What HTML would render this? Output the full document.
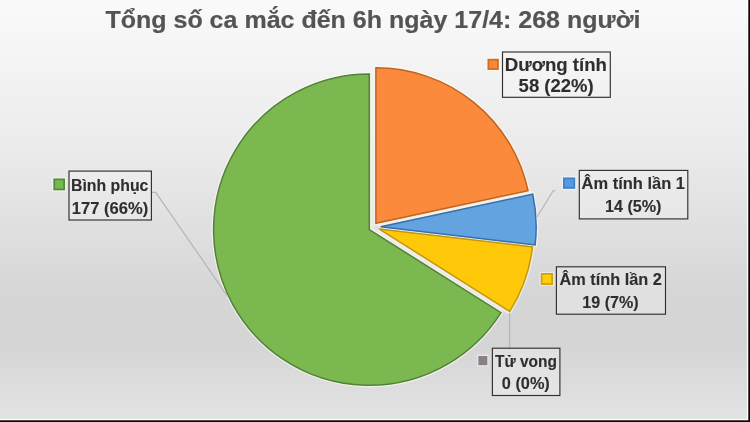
<!DOCTYPE html>
<html><head><meta charset="utf-8"><title>Chart</title>
<style>
html,body{margin:0;padding:0;background:#fff;}
body{width:750px;height:422px;overflow:hidden;font-family:"Liberation Sans",sans-serif;}
svg{display:block}
text{font-family:"Liberation Sans",sans-serif;font-weight:bold;fill:#2E2E2E;stroke:#2E2E2E;stroke-width:0.12px;}
#wrap{width:750px;height:422px;will-change:transform;}
</style></head><body>
<div id="wrap">
<svg width="750" height="422" viewBox="0 0 750 422">
<defs>
<linearGradient id="bg" x1="0" y1="0" x2="0" y2="1">
<stop offset="0" stop-color="#FAFAFA"/>
<stop offset="0.35" stop-color="#EBEBEB"/>
<stop offset="0.55" stop-color="#DFDFDF"/>
<stop offset="0.69" stop-color="#D6D6D6"/>
<stop offset="0.82" stop-color="#D5D5D5"/>
<stop offset="1" stop-color="#E4E4E4"/>
</linearGradient>
<filter id="hb" x="-5%" y="-5%" width="110%" height="110%"><feGaussianBlur stdDeviation="0.7"/></filter>
</defs>
<rect x="0" y="0" width="750" height="422" fill="url(#bg)"/>
<text x="105.4" y="27.7" font-size="24.3" textLength="535" lengthAdjust="spacingAndGlyphs" style="fill:#545454;stroke:#545454;stroke-width:0.2px">Tổng số ca mắc đến 6h ngày 17/4: 268 người</text>
<g filter="url(#hb)">
<path d="M369.30,229.60 L501.00,312.66 A155.70,155.70 0 1 1 369.30,73.90 Z" fill="none" stroke="#FFFBF0" stroke-width="4" stroke-linejoin="miter" opacity="0.6"/>
<path d="M375.90,223.30 L375.90,67.70 A155.60,155.60 0 0 1 528.05,190.71 Z" fill="none" stroke="#FFFBF0" stroke-width="4" stroke-linejoin="miter" opacity="0.6"/>
<path d="M380.60,226.70 L532.75,194.11 A155.60,155.60 0 0 1 535.13,244.90 Z" fill="none" stroke="#FFFBF0" stroke-width="4" stroke-linejoin="miter" opacity="0.6"/>
<path d="M379.00,228.90 L532.54,246.98 A154.60,154.60 0 0 1 509.77,311.37 Z" fill="none" stroke="#FFFBF0" stroke-width="4" stroke-linejoin="miter" opacity="0.6"/>
<path d="M501.00,312.66 L369.30,229.60 L369.30,73.90" fill="none" stroke="#F3F1EA" stroke-width="6.4" stroke-linejoin="miter" opacity="0.66"/>
<path d="M375.90,67.70 L375.90,223.30 L528.05,190.71" fill="none" stroke="#F3F1EA" stroke-width="6.4" stroke-linejoin="miter" opacity="0.66"/>
<path d="M532.75,194.11 L380.60,226.70 L535.13,244.90" fill="none" stroke="#F3F1EA" stroke-width="6.4" stroke-linejoin="miter" opacity="0.66"/>
<path d="M532.54,246.98 L379.00,228.90 L509.77,311.37" fill="none" stroke="#F3F1EA" stroke-width="6.4" stroke-linejoin="miter" opacity="0.66"/>
</g>
<g>
<path d="M369.30,229.60 L501.00,312.66 A155.70,155.70 0 1 1 369.30,73.90 Z" fill="#7BB850" stroke="#52823A" stroke-width="1.5" stroke-linejoin="miter"/>
<path d="M375.90,223.30 L375.90,67.70 A155.60,155.60 0 0 1 528.05,190.71 Z" fill="#FB8A3C" stroke="#C2631E" stroke-width="1.5" stroke-linejoin="miter"/>
<path d="M380.60,226.70 L532.75,194.11 A155.60,155.60 0 0 1 535.13,244.90 Z" fill="#62A3E0" stroke="#356FAE" stroke-width="1.5" stroke-linejoin="miter"/>
<path d="M379.00,228.90 L532.54,246.98 A154.60,154.60 0 0 1 509.77,311.37 Z" fill="#FFC90A" stroke="#C29612" stroke-width="1.5" stroke-linejoin="miter"/>
</g>
<g fill="none" stroke="#B4B4B4" stroke-width="1.15">
<polyline points="152,192.4 155.7,192.4 227.6,296.3" />
<polyline points="555.6,190.7 553.2,190.7 537,217" />
<polyline points="509.7,313 509.7,348" />
</g>
<g>
<rect x="502.5" y="52" width="107.8" height="45.3" fill="#F6F6F6" fill-opacity="0.32" stroke="#303030" stroke-width="1.15"/>
<rect x="486.90" y="58.20" width="12.50" height="12.30" fill="none" stroke="#FFFFFF" stroke-opacity="0.45" stroke-width="1.2"/>
<rect x="488.35" y="59.65" width="9.60" height="9.40" fill="#FA8836" stroke="#CF6A1E" stroke-width="1.7"/>
<text x="504.8" y="70.8" font-size="18" textLength="102.2" lengthAdjust="spacingAndGlyphs">Dương tính</text>
<text x="518.6" y="91.8" font-size="18" textLength="75.1" lengthAdjust="spacingAndGlyphs">58 (22%)</text>
<rect x="579.3" y="170.4" width="108.5" height="48.5" fill="#F6F6F6" fill-opacity="0.32" stroke="#303030" stroke-width="1.15"/>
<rect x="562.40" y="176.90" width="13.40" height="12.50" fill="none" stroke="#FFFFFF" stroke-opacity="0.45" stroke-width="1.2"/>
<rect x="563.85" y="178.35" width="10.50" height="9.60" fill="#5599E0" stroke="#3F80CA" stroke-width="1.7"/>
<text x="581.6" y="189.0" font-size="15.8" textLength="103.4" lengthAdjust="spacingAndGlyphs">Âm tính lần 1</text>
<text x="605.0" y="212.1" font-size="16.0" textLength="56.5" lengthAdjust="spacingAndGlyphs">14 (5%)</text>
<rect x="556.4" y="266.8" width="109.1" height="47.4" fill="#F6F6F6" fill-opacity="0.32" stroke="#303030" stroke-width="1.15"/>
<rect x="540.20" y="272.40" width="13.40" height="13.10" fill="none" stroke="#FFFFFF" stroke-opacity="0.45" stroke-width="1.2"/>
<rect x="541.65" y="273.85" width="10.50" height="10.20" fill="#FFCE08" stroke="#D0A00E" stroke-width="1.7"/>
<text x="559.5" y="285.0" font-size="15.8" textLength="102.4" lengthAdjust="spacingAndGlyphs">Âm tính lần 2</text>
<text x="582.3" y="308.2" font-size="16.0" textLength="56.3" lengthAdjust="spacingAndGlyphs">19 (7%)</text>
<rect x="492.4" y="348.2" width="67.5" height="47.3" fill="#F6F6F6" fill-opacity="0.32" stroke="#303030" stroke-width="1.15"/>
<rect x="477.80" y="355.40" width="10.10" height="10.40" fill="none" stroke="#FFFFFF" stroke-opacity="0.45" stroke-width="1.2"/>
<rect x="478.40" y="356.00" width="8.90" height="9.20" fill="#888285"/>
<text x="495.0" y="366.5" font-size="15.6" textLength="61.9" lengthAdjust="spacingAndGlyphs">Tử vong</text>
<text x="501.8" y="389.3" font-size="16.0" textLength="48.0" lengthAdjust="spacingAndGlyphs">0 (0%)</text>
<rect x="69.0" y="171.1" width="82.4" height="48.9" fill="#F6F6F6" fill-opacity="0.32" stroke="#303030" stroke-width="1.15"/>
<rect x="52.80" y="177.90" width="12.80" height="13.00" fill="none" stroke="#FFFFFF" stroke-opacity="0.45" stroke-width="1.2"/>
<rect x="54.25" y="179.35" width="9.90" height="10.10" fill="#74BB4E" stroke="#50893A" stroke-width="1.7"/>
<text x="71.0" y="190.7" font-size="15.8" textLength="77.4" lengthAdjust="spacingAndGlyphs">Bình phục</text>
<text x="71.8" y="213.5" font-size="16.0" textLength="76.4" lengthAdjust="spacingAndGlyphs">177 (66%)</text>
</g>
<rect x="0" y="419" width="748" height="1" fill="#FFFFFF"/>
<rect x="747" y="0" width="1" height="420" fill="#FFFFFF"/>
<rect x="0" y="420.3" width="750" height="2" fill="#0A0A0A"/>
<rect x="748.3" y="0" width="2" height="422" fill="#0A0A0A"/>
</svg>
</div>
</body></html>
